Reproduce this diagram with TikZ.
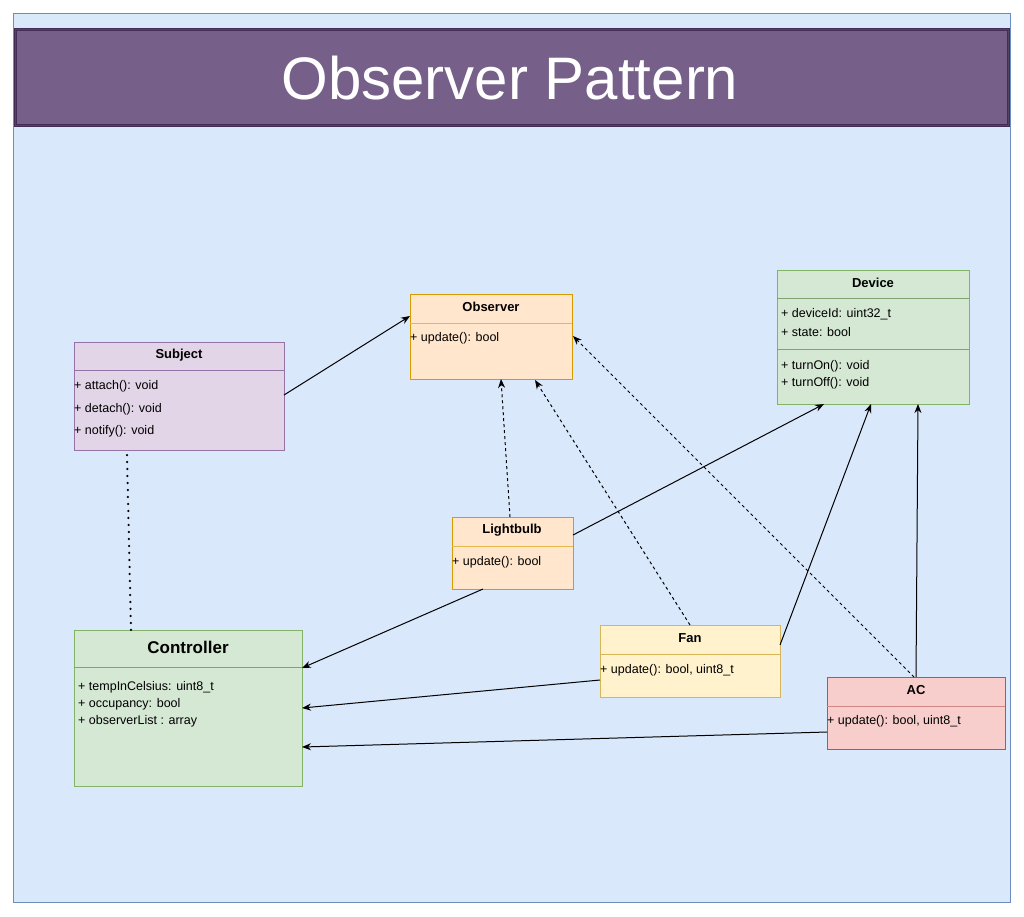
\documentclass[tikz,border=0pt]{standalone}
\usepackage{fontspec}
\setmainfont{Liberation Sans}
\usetikzlibrary{arrows.meta}
\definecolor{bgfill}{HTML}{DAE8FC}\definecolor{bgline}{HTML}{6C8EBF}
\definecolor{purf}{HTML}{E1D5E7}\definecolor{purl}{HTML}{9673A6}
\definecolor{orf}{HTML}{FFE6CC}\definecolor{orl}{HTML}{D79B00}
\definecolor{grf}{HTML}{D5E8D4}\definecolor{grl}{HTML}{82B366}
\definecolor{yef}{HTML}{FFF2CC}\definecolor{yel}{HTML}{D6B656}
\definecolor{ref}{HTML}{F8CECC}\definecolor{rel}{HTML}{B85450}
\definecolor{titf}{HTML}{76608A}\definecolor{titl}{HTML}{432D57}
\begin{document}
\begin{tikzpicture}[x=1pt,y=-1pt,
  box/.style={draw=#1,line width=1pt,anchor=north west,inner sep=0pt},
  hdr/.style={font=\fontsize{13}{15}\selectfont\bfseries},
  txt/.style={font=\fontsize{12.5}{15}\selectfont,anchor=west,inner sep=1pt},
  arr/.style={-{Stealth[length=9pt,width=7pt]},line width=1pt},
  dasharr/.style={arr,dashed}]
\useasboundingbox (0,0) rectangle (1024,916);
\fill[white] (0,0) rectangle (1024,916);
\draw[fill=bgfill,draw=bgline,line width=1pt] (13,13) rectangle (1010,902);
\node[box=titl,fill=titf,minimum width=993pt,minimum height=96pt,line width=1.2pt,double=titf!70!black,double distance=1pt] (title) at (15,29) {};
\node[text=white,font=\fontsize{60}{66}\selectfont] (titletext) at (510,78) {Observer Pattern};
% Subject
\node[box=purl,fill=purf,minimum width=210pt,minimum height=108pt] (subj) at (74,342) {};
\draw[purl] (74,370) -- (284,370);
\node[hdr] (subjh) at (179,355) {Subject};
\node[txt] (s1) at (73,386) {+ attach(): void};
\node[txt] (s2) at (73,409) {+ detach(): void};
\node[txt] (s3) at (73,431) {+ notify(): void};
% Observer
\node[box=orl,fill=orf,minimum width=162pt,minimum height=85pt] (obs) at (410,294) {};
\draw[orl!70] (410,323) -- (572,323);
\node[hdr] (obsh) at (491,307) {Observer};
\node[txt] (o1) at (409,338) {+ update(): bool};
% Device
\node[box=grl,fill=grf,minimum width=192pt,minimum height=134pt] (dev) at (777,270) {};
\draw[grl!70!gray] (777,298) -- (969,298);
\draw[grl!70!gray] (777,349) -- (969,349);
\node[hdr] (devh) at (873,283) {Device};
\node[txt] (d1) at (780,314) {+ deviceId: uint32\_t};
\node[txt] (d2) at (780,332) {+ state: bool};
\node[txt] (d3) at (780,366) {+ turnOn(): void};
\node[txt] (d4) at (780,383) {+ turnOff(): void};
% Lightbulb
\node[box=orl,fill=orf,minimum width=121pt,minimum height=72pt] (lb) at (452,517) {};
\draw[orl!70] (452,546) -- (573,546);
\node[hdr] (lbh) at (512,530) {Lightbulb};
\node[txt] (l1) at (451,562) {+ update(): bool};
% Fan
\node[box=yel,fill=yef,minimum width=180pt,minimum height=72pt] (fan) at (600,625) {};
\draw[yel] (600,654) -- (780,654);
\node[hdr] (fanh) at (690,638) {Fan};
\node[txt] (f1) at (599,670) {+ update(): bool, uint8\_t};
% AC
\node[box=rel,fill=ref,minimum width=178pt,minimum height=72pt] (ac) at (827,677) {};
\draw[rel!70] (827,706) -- (1005,706);
\node[hdr] (ach) at (916,690) {AC};
\node[txt] (a1) at (826,721) {+ update(): bool, uint8\_t};
% Controller
\node[box=grl,fill=grf,minimum width=228pt,minimum height=156pt] (ctl) at (74,630) {};
\draw[grl!70!gray] (74,667) -- (302,667);
\node[font=\fontsize{17}{20}\selectfont\bfseries] (ctlh) at (188,647) {Controller};
\node[txt] (c1) at (77,687) {+ tempInCelsius: uint8\_t};
\node[txt] (c2) at (77,704) {+ occupancy: bool};
\node[txt] (c3) at (77,721) {+ observerList : array};
% coordinates
\coordinate (subjR) at (284,395); \coordinate (obsL) at (410,316);
\coordinate (subjB) at (127,455); \coordinate (ctlT) at (131,630);
\coordinate (lbT) at (510,517); \coordinate (obsB1) at (501,379);
\coordinate (fanT) at (690,625); \coordinate (obsB2) at (535,380);
\coordinate (acT1) at (914,677); \coordinate (obsR) at (573,336);
\coordinate (lbR) at (573,535); \coordinate (devB1) at (824,404);
\coordinate (fanR) at (780,645); \coordinate (devB2) at (871,404);
\coordinate (acT2) at (916,677); \coordinate (devB3) at (918,404);
\coordinate (lbB) at (483,589); \coordinate (ctlR1) at (302,668);
\coordinate (fanL) at (600,680); \coordinate (ctlR2) at (302,708);
\coordinate (acL) at (827,732); \coordinate (ctlR3) at (302,747);
\draw[arr] (subjR) -- (obsL);
\draw[line width=2.5pt,dash pattern=on 0pt off 7pt,line cap=round] (subjB) -- (ctlT);
\draw[dasharr] (lbT) -- (obsB1);
\draw[dasharr] (fanT) -- (obsB2);
\draw[dasharr] (acT1) -- (obsR);
\draw[arr] (lbR) -- (devB1);
\draw[arr] (fanR) -- (devB2);
\draw[arr] (acT2) -- (devB3);
\draw[arr] (lbB) -- (ctlR1);
\draw[arr] (fanL) -- (ctlR2);
\draw[arr] (acL) -- (ctlR3);
\end{tikzpicture}
\end{document}
